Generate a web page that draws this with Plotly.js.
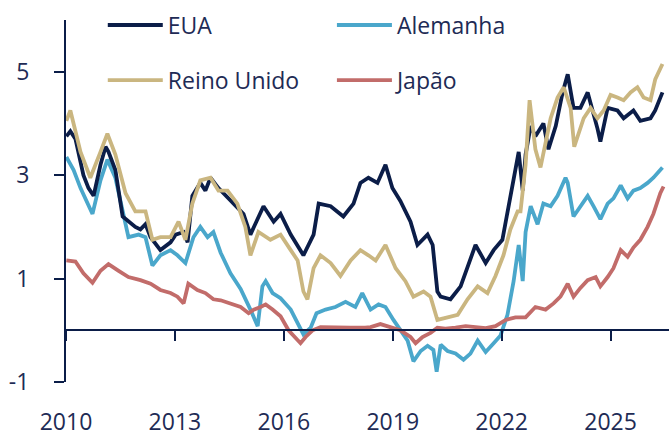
<!DOCTYPE html>
<html><head><meta charset="utf-8">
<script src="https://cdn.plot.ly/plotly-3.0.1.min.js"></script>
<style>html,body{margin:0;padding:0;background:#fff}#chart{width:669px;height:434px}</style>
</head><body><div id="chart"></div>
<script>
const seriesNames = ["EUA", "Alemanha", "Reino Unido", "Japão"];

const usYears = [2010.01,2010.12,2010.26,2010.48,2010.62,2010.76,2010.95,2011.09,2011.17,2011.36,2011.56,2011.72,2011.91,2012.05,2012.19,2012.33,2012.6,2012.88,2013.02,2013.24,2013.35,2013.48,2013.70,2013.84,2013.98,2014.2,2014.53,2014.89,2015.08,2015.44,2015.72,2015.91,2016.19,2016.54,2016.82,2016.96,2017.29,2017.64,2017.92,2018.11,2018.33,2018.58,2018.80,2018.99,2019.21,2019.49,2019.68,2019.96,2020.10,2020.23,2020.32,2020.59,2020.87,2021.14,2021.28,2021.56,2021.78,2022.02,2022.19,2022.33,2022.47,2022.58,2022.66,2022.80,2022.93,2023.15,2023.29,2023.49,2023.68,2023.82,2023.98,2024.17,2024.37,2024.64,2024.72,2024.92,2025.19,2025.36,2025.63,2025.82,2026.10,2026.23,2026.43];
const usValues = [3.75,3.85,3.7,3.0,2.75,2.6,3.2,3.55,3.45,3.1,2.2,2.1,2.0,1.95,2.05,1.8,1.55,1.7,1.85,1.9,1.7,2.6,2.85,2.7,2.95,2.75,2.5,2.25,1.85,2.4,2.1,2.25,1.85,1.45,1.85,2.45,2.4,2.2,2.45,2.85,2.95,2.85,3.2,2.75,2.5,2.1,1.65,1.85,1.65,0.75,0.65,0.6,0.85,1.35,1.65,1.3,1.55,1.75,2.4,2.95,3.45,2.7,3.4,3.95,3.75,4.0,3.5,3.95,4.6,4.95,4.3,4.3,4.6,3.9,3.65,4.3,4.25,4.1,4.25,4.05,4.1,4.25,4.6];

const deYears = [2010.01,2010.21,2010.40,2010.62,2010.73,2010.95,2011.14,2011.36,2011.56,2011.72,2012.00,2012.19,2012.38,2012.60,2012.88,2013.07,2013.29,2013.51,2013.70,2013.90,2014.06,2014.20,2014.26,2014.53,2014.81,2015.08,2015.28,2015.41,2015.50,2015.69,2015.91,2016.19,2016.38,2016.54,2016.74,2016.90,2017.15,2017.42,2017.70,2017.97,2018.16,2018.39,2018.61,2018.80,2019.02,2019.21,2019.41,2019.57,2019.77,2019.96,2020.12,2020.21,2020.32,2020.51,2020.73,2020.95,2021.14,2021.34,2021.56,2021.78,2021.97,2022.16,2022.33,2022.47,2022.58,2022.66,2022.80,2022.99,2023.15,2023.35,2023.54,2023.76,2023.82,2023.98,2024.17,2024.37,2024.53,2024.72,2024.92,2025.08,2025.28,2025.47,2025.63,2025.82,2026.02,2026.18,2026.43];
const deValues = [3.35,3.1,2.75,2.4,2.25,2.9,3.3,2.95,2.3,1.8,1.85,1.8,1.25,1.45,1.55,1.45,1.3,1.8,2.0,1.8,1.9,1.6,1.5,1.1,0.8,0.4,0.08,0.85,0.95,0.72,0.62,0.4,0.12,-0.08,0.05,0.33,0.4,0.45,0.55,0.45,0.72,0.4,0.5,0.45,0.2,0.0,-0.2,-0.6,-0.4,-0.3,-0.38,-0.8,-0.28,-0.4,-0.45,-0.57,-0.45,-0.2,-0.42,-0.25,-0.1,0.3,0.95,1.65,0.95,1.9,2.4,2.05,2.45,2.4,2.6,2.95,2.85,2.2,2.4,2.6,2.4,2.15,2.45,2.55,2.8,2.55,2.7,2.75,2.85,2.95,3.15];

const ukYears = [2010.01,2010.12,2010.40,2010.67,2010.95,2011.14,2011.36,2011.64,2011.91,2012.19,2012.38,2012.60,2012.88,2013.10,2013.29,2013.48,2013.70,2013.98,2014.20,2014.45,2014.72,2014.94,2015.08,2015.30,2015.63,2015.91,2016.19,2016.38,2016.54,2016.65,2016.82,2017.01,2017.29,2017.56,2017.84,2018.11,2018.33,2018.53,2018.80,2019.08,2019.35,2019.57,2019.85,2020.04,2020.23,2020.51,2020.79,2021.06,2021.34,2021.61,2021.83,2022.05,2022.24,2022.44,2022.52,2022.66,2022.77,2022.93,2023.07,2023.35,2023.54,2023.71,2023.90,2024.00,2024.26,2024.45,2024.64,2024.81,2025.00,2025.19,2025.36,2025.55,2025.74,2025.91,2026.10,2026.23,2026.43];
const ukValues = [4.05,4.25,3.45,2.95,3.45,3.8,3.4,2.65,2.3,2.3,1.75,1.8,1.8,2.1,1.75,2.45,2.9,2.95,2.7,2.7,2.45,2.0,1.45,1.9,1.75,1.85,1.55,1.35,0.75,0.6,1.2,1.45,1.3,1.05,1.35,1.55,1.45,1.35,1.65,1.2,0.95,0.65,0.75,0.65,0.2,0.25,0.3,0.6,0.85,0.72,1.05,1.45,1.95,2.3,2.3,3.2,4.45,3.5,3.15,4.1,4.5,4.7,4.3,3.55,4.1,4.3,4.1,4.25,4.55,4.5,4.45,4.6,4.7,4.5,4.45,4.85,5.15];

const jpYears = [2010.01,2010.26,2010.48,2010.73,2010.95,2011.17,2011.45,2011.72,2012.05,2012.33,2012.60,2012.88,2013.07,2013.24,2013.37,2013.62,2013.84,2014.06,2014.26,2014.53,2014.81,2015.03,2015.17,2015.36,2015.50,2015.69,2015.91,2016.13,2016.32,2016.46,2016.60,2016.79,2017.01,2017.42,2017.84,2018.24,2018.39,2018.66,2018.94,2019.21,2019.49,2019.63,2019.82,2020.04,2020.23,2020.45,2020.73,2021.01,2021.28,2021.56,2021.83,2022.11,2022.38,2022.66,2022.93,2023.21,2023.43,2023.62,2023.82,2023.98,2024.17,2024.37,2024.59,2024.72,2024.92,2025.08,2025.28,2025.47,2025.63,2025.82,2026.02,2026.18,2026.37,2026.46];
const jpValues = [1.35,1.33,1.1,0.92,1.15,1.28,1.15,1.03,0.97,0.9,0.78,0.72,0.65,0.52,0.9,0.78,0.72,0.6,0.58,0.52,0.45,0.33,0.4,0.45,0.5,0.4,0.27,0.0,-0.13,-0.25,-0.13,0.0,0.06,0.05,0.05,0.05,0.06,0.12,0.06,0.0,-0.13,-0.25,-0.13,-0.05,0.05,0.03,0.05,0.08,0.06,0.04,0.08,0.2,0.25,0.25,0.45,0.4,0.52,0.65,0.9,0.65,0.82,0.97,1.03,0.85,1.03,1.2,1.55,1.42,1.6,1.75,2.0,2.25,2.65,2.78];

const xTickVals = [2010, 2013, 2016, 2019, 2022, 2025];
const xTickText = ["2010", "2013", "2016", "2019", "2022", "2025"];
const yTickVals = [-1, 1, 3, 5];
const yTickText = ["-1", "1", "3", "5"];

const navy = "#0b1d48";
const textColor = "#1e2b55";
const colors = {us: navy, de: "#4aa7cb", uk: "#cab680", jp: "#c26c6a"};

const lw = 3.8;
const traces = [
  {x: deYears, y: deValues, name: seriesNames[1], type: "scatter", mode: "lines", line: {color: colors.de, width: lw}, legend: "legend2"},
  {x: usYears, y: usValues, name: seriesNames[0], type: "scatter", mode: "lines", line: {color: colors.us, width: lw}, legend: "legend"},
  {x: ukYears, y: ukValues, name: seriesNames[2], type: "scatter", mode: "lines", line: {color: colors.uk, width: lw}, legend: "legend3"},
  {x: jpYears, y: jpValues, name: seriesNames[3], type: "scatter", mode: "lines", line: {color: colors.jp, width: lw}, legend: "legend4"}
];

const fontFam = "Open Sans, sans-serif";
const legendBase = {xanchor: "left", yanchor: "middle", bgcolor: "rgba(0,0,0,0)", borderwidth: 0,
  itemwidth: 55, font: {family: fontFam, size: 23, color: textColor}};

const layout = {
  width: 669, height: 434,
  margin: {l: 66, r: 0, t: 20, b: 52, pad: 0},
  paper_bgcolor: "#ffffff", plot_bgcolor: "#ffffff",
  showlegend: true,
  legend: Object.assign({}, legendBase, {x: 0.061, y: 0.986}),
  legend2: Object.assign({}, legendBase, {x: 0.441, y: 0.986}),
  legend3: Object.assign({}, legendBase, {x: 0.061, y: 0.834}),
  legend4: Object.assign({}, legendBase, {x: 0.441, y: 0.834}),
  xaxis: {
    range: [2010, 2026.61], anchor: "free", position: 1/7,
    showgrid: false, zeroline: false,
    showline: true, linecolor: navy, linewidth: 2,
    ticks: "outside", ticklen: 10, tickwidth: 2, tickcolor: navy,
    tickmode: "array", tickvals: xTickVals, ticktext: xTickText,
    ticklabelstandoff: 61,
    tickfont: {family: fontFam, size: 23, color: textColor}
  },
  yaxis: {
    range: [-1, 6], showgrid: false, zeroline: false,
    showline: true, linecolor: navy, linewidth: 2,
    ticks: "outside", ticklen: 10, tickwidth: 2, tickcolor: navy,
    tickmode: "array", tickvals: yTickVals, ticktext: yTickText,
    ticklabelstandoff: 20,
    tickfont: {family: fontFam, size: 23, color: textColor}
  }
};

Plotly.newPlot("chart", traces, layout, {staticPlot: true, displayModeBar: false});
</script>
</body></html>
